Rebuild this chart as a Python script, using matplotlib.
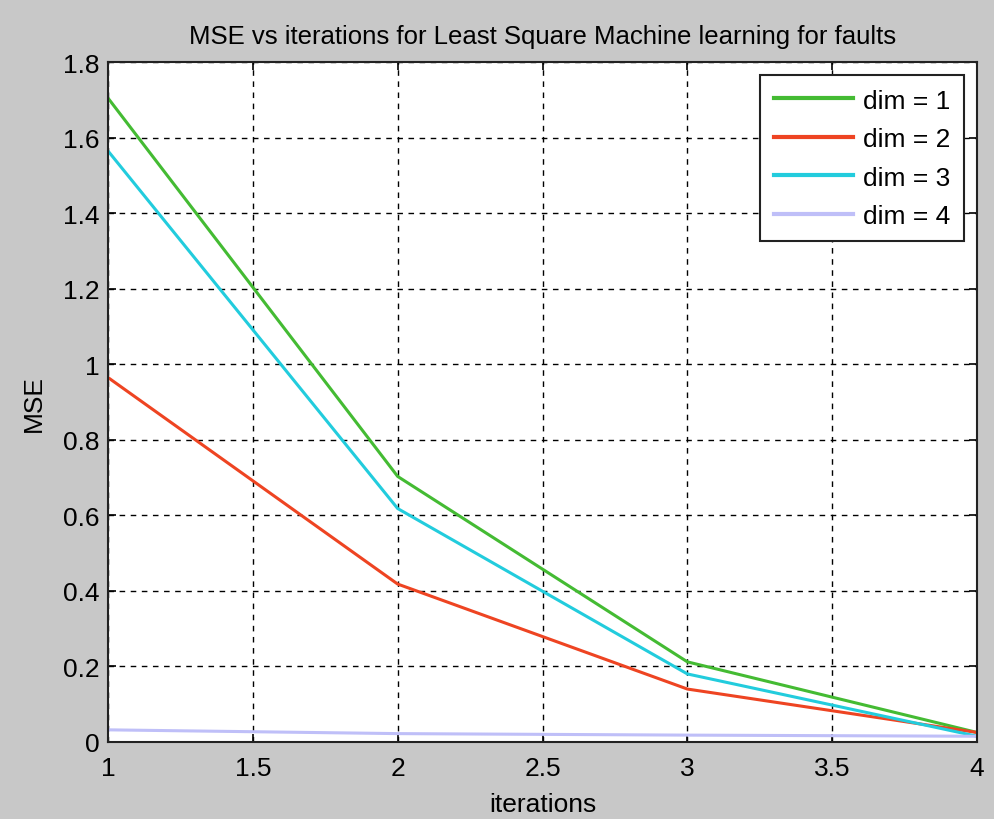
import numpy as np
import matplotlib.pyplot as plt

plt.rcParams['font.family'] = ['Liberation Sans', 'DejaVu Sans']

iterations = [1, 2, 3, 4]
mse_dim1 = [1.705, 0.703, 0.212, 0.025]
mse_dim2 = [0.965, 0.418, 0.140, 0.025]
mse_dim3 = [1.565, 0.618, 0.180, 0.015]
mse_dim4 = [0.032, 0.022, 0.018, 0.015]

labels = ['dim = 1', 'dim = 2', 'dim = 3', 'dim = 4']
colors = ['#44bb33', '#ee4422', '#22ccdd', '#bfbff8']

fig = plt.figure(figsize=(9.95, 8.2), dpi=100, facecolor='#c8c8c8')
ax = fig.add_axes([0.1085, 0.094, 0.8735, 0.829])

for y, lab, c in zip([mse_dim1, mse_dim2, mse_dim3, mse_dim4], labels, colors):
    ax.plot(iterations, y, color=c, lw=2.2, label=lab)

ax.set_xlim(1, 4)
ax.set_ylim(0, 1.8)
ax.set_xticks(np.arange(1, 4.01, 0.5))
ax.set_xticklabels(['1', '1.5', '2', '2.5', '3', '3.5', '4'])
ax.set_yticks(np.arange(0, 1.81, 0.2))
ax.set_yticklabels(['0', '0.2', '0.4', '0.6', '0.8', '1', '1.2', '1.4', '1.6', '1.8'])
ax.grid(True, color='black', linestyle=(0, (4, 4)), linewidth=1.0)
ax.tick_params(direction='in', top=True, right=True, labelsize=19, length=6, width=1.2, pad=6)
ax.tick_params(axis='x', pad=10)
for s in ax.spines.values():
    s.set_linewidth(1.5)
    s.set_color('#222222')

ax.set_title('MSE vs iterations for Least Square Machine learning for faults', fontsize=18.5, pad=14)
ax.set_xlabel('iterations', fontsize=19, labelpad=9)
ax.set_ylabel('MSE', fontsize=19, labelpad=12)

leg = ax.legend(loc='upper right', fontsize=19, fancybox=False, framealpha=1,
                edgecolor='#222222', handlelength=3.0, handletextpad=0.4,
                borderpad=0.5, labelspacing=0.55, borderaxespad=0.5)
leg.get_frame().set_linewidth(1.5)
for h in leg.get_lines():
    h.set_linewidth(3)

fig.savefig('out.png', dpi=100, facecolor=fig.get_facecolor())
